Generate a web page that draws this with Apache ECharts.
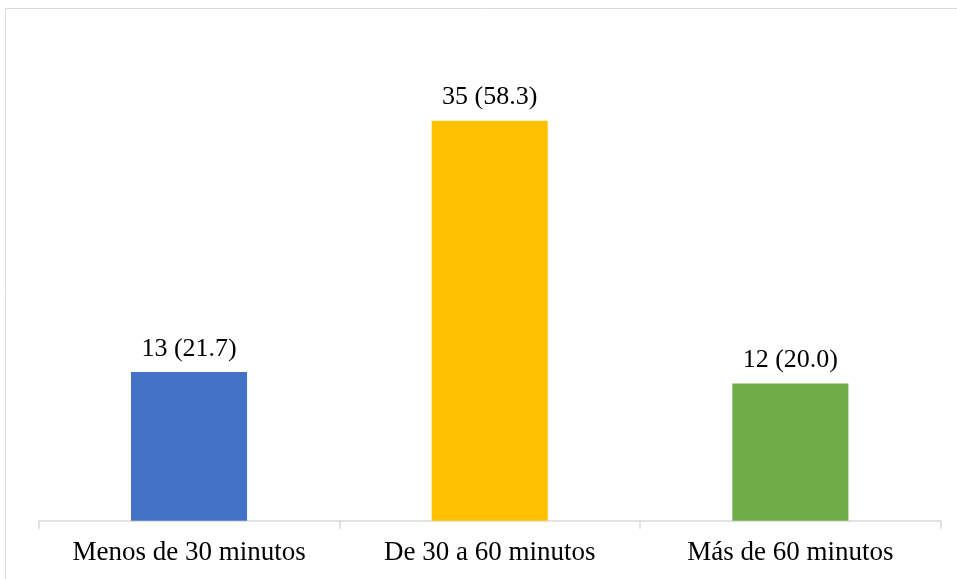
<!DOCTYPE html>
<html>
<head>
<meta charset="utf-8">
<script src="https://cdn.jsdelivr.net/npm/echarts@6/dist/echarts.min.js"></script>
<style>
  html, body { margin: 0; padding: 0; background: #fff; overflow: hidden; }
  #chart { width: 957px; height: 579px; }
</style>
</head>
<body>
<div id="chart"></div>
<script>
// Tiempo de traslado: frecuencia y porcentaje
const categories = ['Menos de 30 minutos', 'De 30 a 60 minutos', 'Más de 60 minutos'];
const counts = [13, 35, 12];
const percents = ['21.7', '58.3', '20.0'];
const barColors = ['#4472C4', '#FFC000', '#70AD47'];

const chart = echarts.init(document.getElementById('chart'));
const serif = '"Liberation Serif", "Times New Roman", serif';

chart.setOption({
  animation: false,
  graphic: [{
    type: 'rect',
    shape: { x: 5.5, y: 8.5, width: 1200, height: 1200 },
    style: { fill: 'none', stroke: '#d9d9d9', lineWidth: 1 },
    silent: true
  }],
  grid: { left: 38.7, right: 16.3, top: 63.5, bottom: 58.3 },
  xAxis: {
    type: 'category',
    data: categories,
    boundaryGap: true,
    axisLine: { lineStyle: { color: '#d9d9d9', width: 1.5 } },
    axisTick: { show: true, interval: 0, length: 8, lineStyle: { color: '#d9d9d9', width: 1.5 } },
    axisLabel: { interval: 0, hideOverlap: false, color: '#000', fontFamily: serif, fontSize: 27, margin: 19 }
  },
  yAxis: {
    type: 'value',
    min: 0, max: 40,
    show: false,
    splitLine: { show: false }
  },
  series: [{
    type: 'bar',
    barWidth: '38.6%',
    data: counts.map((v, i) => ({ value: v, itemStyle: { color: barColors[i] } })),
    label: {
      show: true,
      position: 'top',
      distance: 10,
      color: '#000',
      fontFamily: serif,
      fontSize: 26,
      formatter: p => counts[p.dataIndex] + ' (' + percents[p.dataIndex] + ')'
    }
  }]
});
</script>
</body>
</html>
